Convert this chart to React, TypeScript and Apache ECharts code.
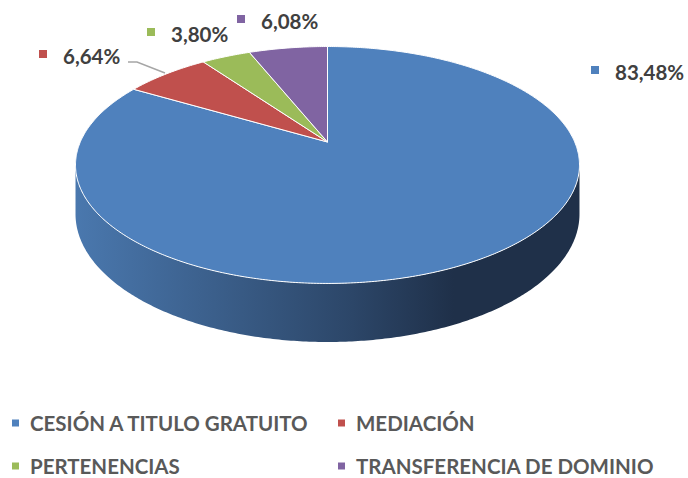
import React, { useEffect, useRef } from 'react';
import * as echarts from 'echarts';

// ---- data ----
const categories = ['CESIÓN A TITULO GRATUITO', 'MEDIACIÓN', 'PERTENENCIAS', 'TRANSFERENCIA DE DOMINIO'];
const values = [83.48, 6.64, 3.8, 6.08];

// ---- styles / layout ----
const colors = ['#4f81bd', '#c0504d', '#9bbb59', '#8064a2'];
const labelMarkers = [
  [595, 70],
  [43, 54],
  [151, 32],
  [241, 19],
];
const FONT = 'Lato';
const CX = 327.5;
const CY = 142;
const A = 247.2;
const B = 114;
const K = 0.194;
const D = 47.2;

function proj(theta: number, down: boolean): number[] {
  const s = Math.sin(theta);
  const c = Math.cos(theta);
  const w = 1 + K * c;
  return [CX + (A * s) / w, CY - (B * c) / w + (down ? D / w : 0)];
}

function arc(t0: number, t1: number, down: boolean): number[][] {
  const n = Math.max(2, Math.ceil((t1 - t0) / 0.01));
  const pts: number[][] = [];
  for (let i = 0; i <= n; i++) pts.push(proj(t0 + ((t1 - t0) * i) / n, down));
  return pts;
}

const fmt = (v: number) => v.toFixed(2).replace('.', ',') + '%';

export default function App() {
  const ref = useRef<HTMLDivElement>(null);
  useEffect(() => {
    if (!ref.current) return;
    const chart = echarts.init(ref.current, null, { renderer: 'svg' });
    let acc = 0;
    const ranges = values.map((v) => {
      const r = [acc, acc + v];
      acc += v;
      return r;
    });
    const total = acc;
    const wallGrad = new echarts.graphic.LinearGradient(
      75, 0, 580, 0,
      [
        { offset: 0, color: '#4a78ae' },
        { offset: 0.55, color: '#2c4668' },
        { offset: 0.75, color: '#1f3049' },
        { offset: 1, color: '#1f3049' },
      ],
      true
    );
    const visL = Math.acos(-K);
    const visR = 2 * Math.PI - visL;

    const series = categories.map((name, i) => ({
      type: 'custom',
      name,
      coordinateSystem: 'none',
      data: [ranges[i]],
      itemStyle: { color: colors[i] },
      renderItem: (params: any, api: any) => {
        const t0 = (api.value(0) / total) * Math.PI * 2;
        const t1 = (api.value(1) / total) * Math.PI * 2;
        const children: any[] = [];
        const w0 = Math.max(t0, visL);
        const w1 = Math.min(t1, visR);
        if (w1 > w0) {
          const top = arc(w0, w1, false);
          const bot = arc(w0, w1, true).reverse();
          children.push({
            type: 'polygon',
            z2: 1,
            shape: { points: top.concat(bot) },
            style: { fill: wallGrad, stroke: null },
          });
        }
        children.push({
          type: 'polygon',
          z2: 10,
          shape: { points: [[CX, CY]].concat(arc(t0, t1, false)) },
          style: { fill: colors[i], stroke: '#ffffff', lineWidth: 1 },
        });
        return { type: 'group', children };
      },
    }));

    const graphics: any[] = [];
    values.forEach((v, i) => {
      const [mx, my] = labelMarkers[i];
      graphics.push({
        type: 'rect',
        shape: { x: mx - 4, y: my - 4, width: 8, height: 8 },
        style: { fill: colors[i] },
      });
      graphics.push({
        type: 'text',
        x: mx + 20,
        y: my + 2,
        style: {
          text: fmt(v),
          fill: '#404040',
          font: `bold 20.5px ${FONT}`,
          verticalAlign: 'middle',
          align: 'left',
        },
      });
    });
    graphics.push({
      type: 'polyline',
      shape: { points: [[128, 62], [137, 62], [165, 73]] },
      style: { stroke: '#a6a6a6', lineWidth: 1.5, fill: null },
    });

    const legendCommon = {
      orient: 'vertical',
      icon: 'rect',
      itemWidth: 7,
      itemHeight: 7,
      itemGap: 21,
      padding: 0,
      textStyle: {
        color: '#595959',
        fontFamily: FONT,
        fontWeight: 'bold',
        fontSize: 20.5,
        lineHeight: 22,
        padding: [0, 0, 0, 6],
      },
    };

    chart.setOption({
      animation: false,
      backgroundColor: '#ffffff',
      legend: [
        { ...legendCommon, left: 12, top: 412, data: [categories[0], categories[2]] },
        { ...legendCommon, left: 338, top: 412, data: [categories[1], categories[3]] },
      ],
      series,
      graphic: graphics,
    });
    return () => chart.dispose();
  }, []);
  return <div ref={ref} style={{ width: 688, height: 478, position: 'absolute', left: 0, top: 0 }} />;
}
